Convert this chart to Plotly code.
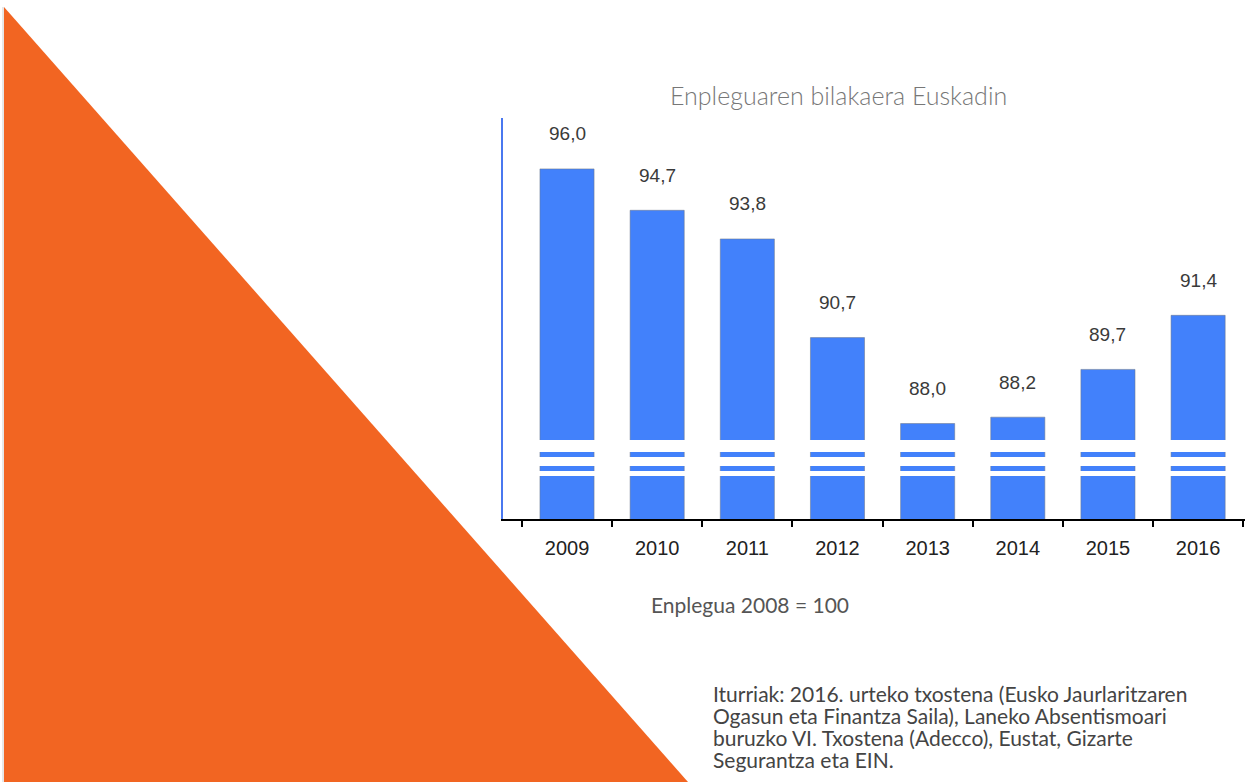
import plotly.graph_objects as go

# data (index, 2008 = 100)
years = ["2009", "2010", "2011", "2012", "2013", "2014", "2015", "2016"]
employment = [96.0, 94.7, 93.8, 90.7, 88.0, 88.2, 89.7, 91.4]
value_labels = ["96,0", "94,7", "93,8", "90,7", "88,0", "88,2", "89,7", "91,4"]

source_lines = [
    "Iturriak: 2016. urteko txostena (Eusko Jaurlaritzaren",
    "Ogasun eta Finantza Saila), Laneko Absentismoari",
    "buruzko VI. Txostena (Adecco), Eustat, Gizarte",
    "Segurantza eta EIN.",
]

W, H = 1253, 782
# plot area in pixels
L, R, T, B = 503, 1245, 118, 519


def px(x):
    return (x - L) / (R - L)


def py(y):
    return (B - y) / (B - T)


fig = go.Figure()
fig.add_trace(go.Bar(
    x=years, y=employment, width=0.6,
    marker=dict(color="#4281fb", line=dict(color="rgba(110,120,140,0.55)", width=1)),
    hoverinfo="x+y", showlegend=False,
))

# value labels above the bars
for i, (v, lab) in enumerate(zip(employment, value_labels)):
    fig.add_annotation(x=i, y=v, xref="x", yref="y", text=lab, showarrow=False,
                       yanchor="middle", yshift=35,
                       font=dict(family="Liberation Sans", size=19, color="#3a3a3a"))

shapes = []
# orange triangle on the left
shapes.append(dict(type="path", xref="paper", yref="paper",
                   path=f"M {px(4)} {py(7)} L {px(4)} {py(782)} L {px(688)} {py(782)} Z",
                   fillcolor="#f26522", line=dict(width=0), layer="above"))
shapes.append(dict(type="line", xref="paper", yref="paper", x0=px(3), x1=px(3), y0=py(7), y1=py(782),
                   line=dict(color="#d0d0d0", width=1)))
# axis-break stripes across the bars
for y0, y1 in [(440, 452), (457, 466), (471, 476)]:
    shapes.append(dict(type="rect", xref="paper", yref="paper", x0=px(506), x1=1, y0=py(y1), y1=py(y0),
                       fillcolor="white", line=dict(width=0), layer="above"))

fig.update_layout(
    width=W, height=H,
    margin=dict(l=L, r=W - R, t=T, b=H - B),
    paper_bgcolor="white", plot_bgcolor="white",
    shapes=shapes,
    xaxis=dict(
        type="category", range=[-0.71, 7.52],
        showline=True, linecolor="black", linewidth=2,
        ticks="outside", tickson="boundaries", ticklen=6, tickwidth=2, tickcolor="black",
        tickfont=dict(family="Liberation Sans", size=20, color="#222"),
        ticklabelstandoff=10, showgrid=False, zeroline=False,
    ),
    yaxis=dict(
        range=[85, 97.6], showline=True, linecolor="#4a78f0", linewidth=2,
        showticklabels=False, ticks="", showgrid=False, zeroline=False,
    ),
)

fig.add_annotation(xref="paper", yref="paper", x=px(838), y=py(95), text="Enpleguaren bilakaera Euskadin",
                   showarrow=False, xanchor="center", yanchor="middle",
                   font=dict(family="Lato", size=25, weight=300, color="#777"))
fig.add_annotation(xref="paper", yref="paper", x=px(649), y=py(604), text="Enplegua 2008 = 100",
                   showarrow=False, xanchor="left", yanchor="middle",
                   font=dict(family="Lato", size=21, color="#555"))
for k, line in enumerate(source_lines):
    fig.add_annotation(xref="paper", yref="paper", x=px(711), y=py(693 + 22 * k), text=line,
                       showarrow=False, xanchor="left", yanchor="middle", align="left",
                       font=dict(family="Lato", size=21, color="#444"))

fig.write_html("out.html", config={"displayModeBar": False},
               post_script="document.body.style.margin='0';")
